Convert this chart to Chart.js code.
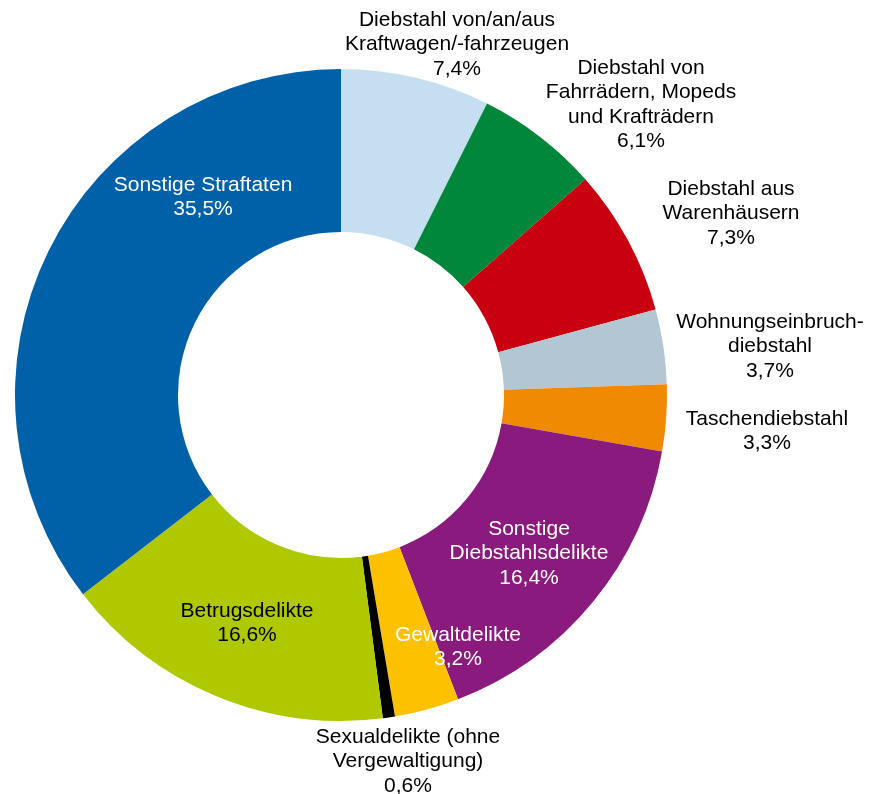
<!DOCTYPE html>
<html>
<head>
<meta charset="utf-8">
<script src="https://cdn.jsdelivr.net/npm/chart.js@4/dist/chart.umd.min.js"></script>
<style>
html,body{margin:0;padding:0;background:#fff;}
#wrap{width:873px;height:794px;position:relative;}
</style>
</head>
<body>
<div id="wrap"><canvas id="c"></canvas></div>
<script>
// Categories (clockwise from 12 o'clock)
const categories = [
  ["Diebstahl von/an/aus", "Kraftwagen/-fahrzeugen"],
  ["Diebstahl von", "Fahrrädern, Mopeds", "und Krafträdern"],
  ["Diebstahl aus", "Warenhäusern"],
  ["Wohnungseinbruch-", "diebstahl"],
  ["Taschendiebstahl"],
  ["Sonstige", "Diebstahlsdelikte"],
  ["Gewaltdelikte"],
  ["Sexualdelikte (ohne", "Vergewaltigung)"],
  ["Betrugsdelikte"],
  ["Sonstige Straftaten"]
];
// Shares in percent
const shares = [7.4, 6.1, 7.3, 3.7, 3.3, 16.4, 3.2, 0.6, 16.6, 35.5];
// Percent labels as printed
const shareLabels = ["7,4%", "6,1%", "7,3%", "3,7%", "3,3%", "16,4%", "3,2%", "0,6%", "16,6%", "35,5%"];

// Styling (kept separate from data)
const colors = ['#c6dff0', '#00873c', '#c8000f', '#b3c6d3', '#f08a00', '#8b1a7f', '#fdc100', '#000000', '#afc800', '#0060a8'];
const textColors = ['#000', '#000', '#000', '#000', '#000', '#fff', '#fff', '#000', '#000', '#fff'];
// label first-line offsets relative to doughnut centre (px)
const labelOffsets = [
  [116, -375], [300, -327], [390, -206], [429, -73], [426, 24],
  [188, 134], [117, 240], [67, 342], [-94, 216], [-138, -210]
];
const LINE_H = 24.4;

const labelPlugin = {
  id: 'sliceLabels',
  afterDatasetsDraw(chart) {
    const meta = chart.getDatasetMeta(0);
    const ctx = chart.ctx;
    const cx = meta.data[0].x, cy = meta.data[0].y;
    ctx.save();
    ctx.font = '21px "Liberation Sans", Arial, sans-serif';
    ctx.textAlign = 'center';
    ctx.textBaseline = 'middle';
    categories.forEach((lines, i) => {
      const all = lines.concat([shareLabels[i]]);
      const x = cx + labelOffsets[i][0];
      let y = cy + labelOffsets[i][1];
      ctx.fillStyle = textColors[i];
      all.forEach((t, k) => ctx.fillText(t, x, y + k * LINE_H));
    });
    ctx.restore();
  }
};

new Chart(document.getElementById('c'), {
  type: 'doughnut',
  data: {
    labels: categories.map(l => l.join(' ')),
    datasets: [{
      data: shares,
      backgroundColor: colors,
      borderWidth: 0,
      hoverOffset: 0
    }]
  },
  options: {
    responsive: true,
    maintainAspectRatio: false,
    animation: false,
    cutout: '50%',
    layout: { padding: { left: 15, right: 206, top: 69, bottom: 73 } },
    plugins: { legend: { display: false }, tooltip: { enabled: false } }
  },
  plugins: [labelPlugin]
});
</script>
</body>
</html>
